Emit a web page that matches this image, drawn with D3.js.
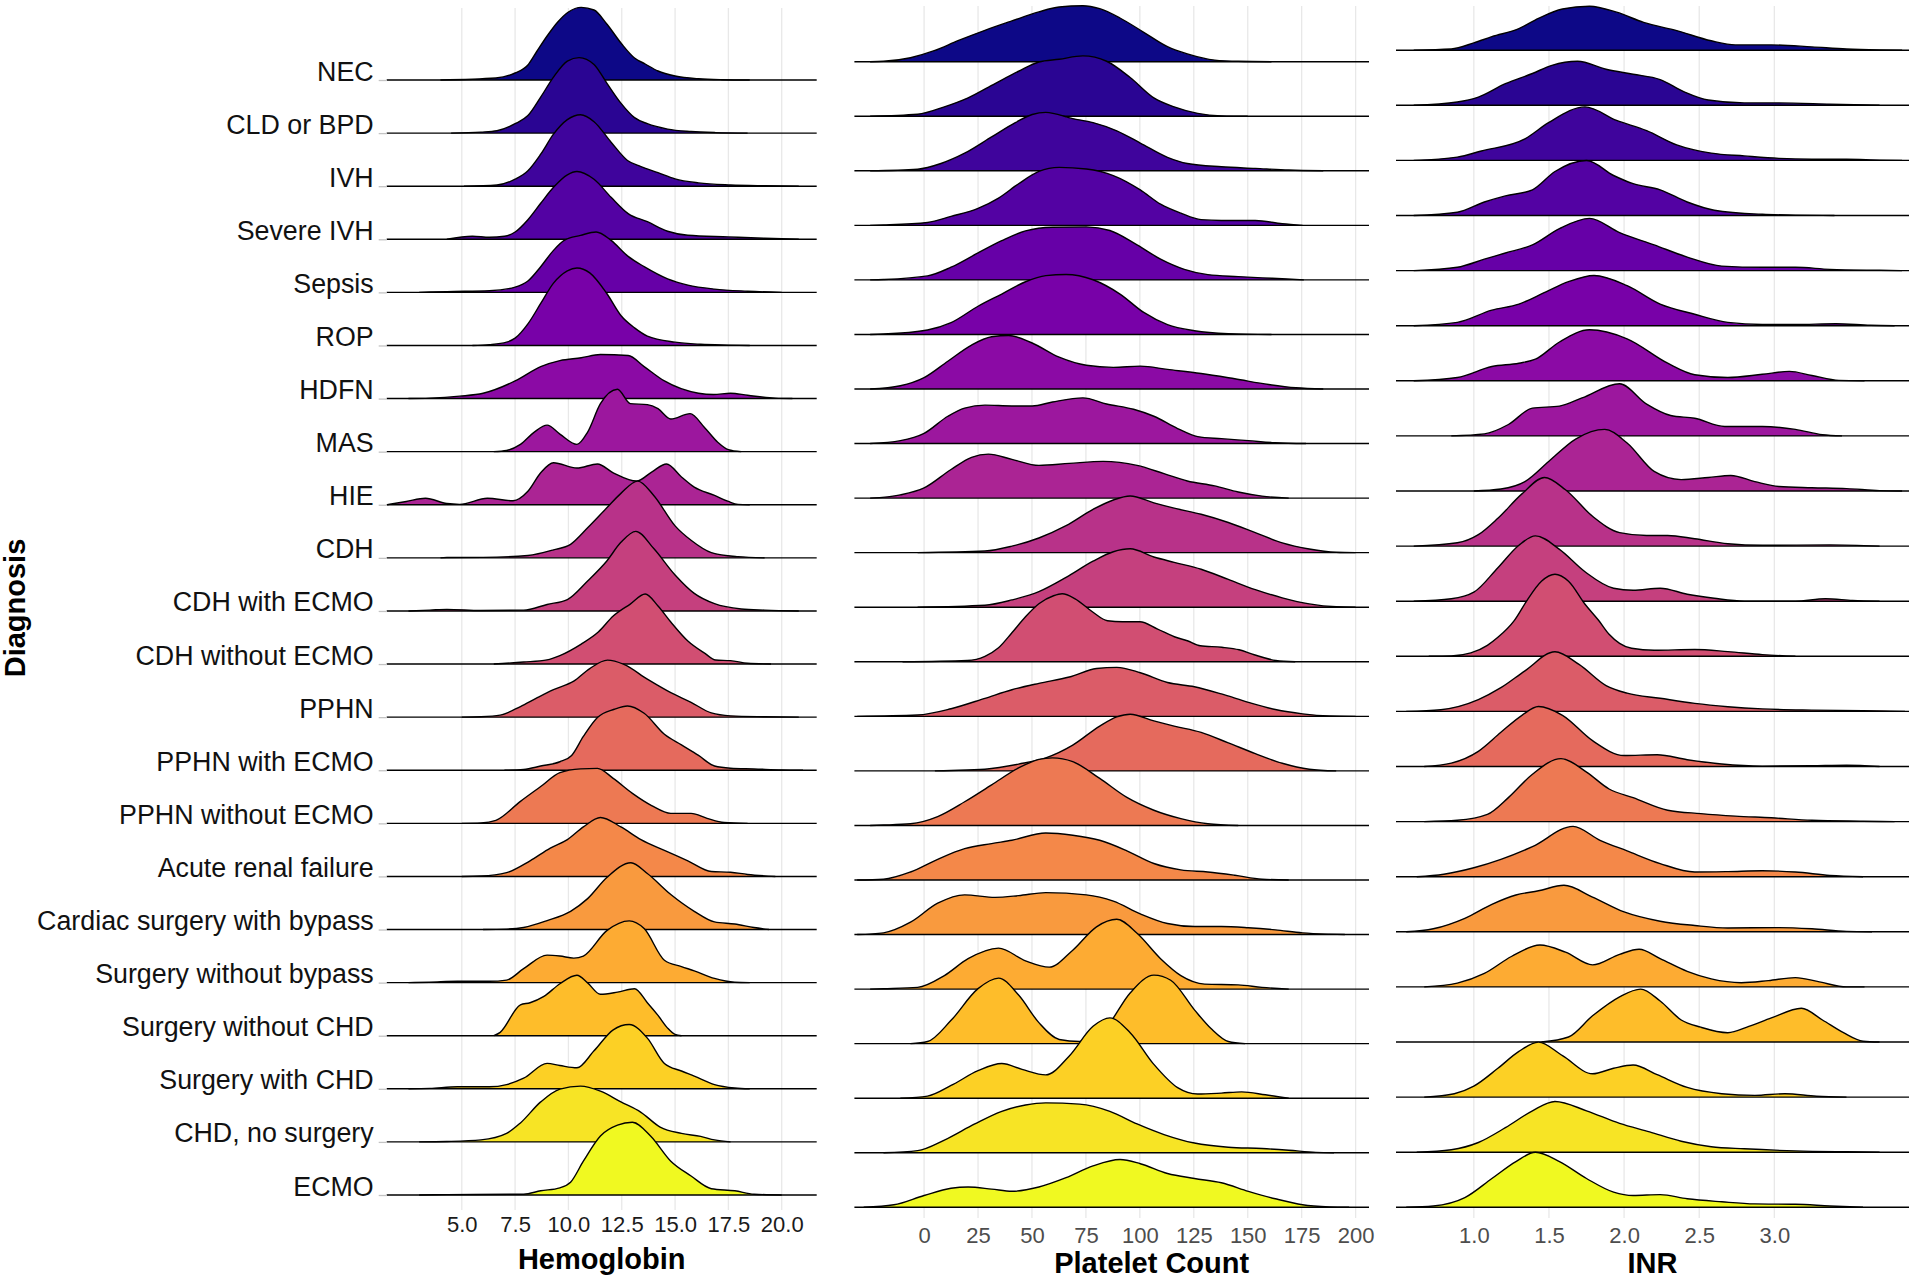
<!DOCTYPE html>
<html>
<head>
<meta charset="utf-8">
<script src="https://cdn.jsdelivr.net/npm/d3@7"></script>
<style>
  html, body { margin: 0; padding: 0; background: #ffffff; }
  svg { display: block; font-family: "Liberation Sans", Arial, sans-serif; }
</style>
</head>
<body>
<svg id="chart" width="1920" height="1283"></svg>
<script>
// ---------------- DATA ----------------
const diagnoses = ["NEC","CLD or BPD","IVH","Severe IVH","Sepsis","ROP","HDFN","MAS","HIE","CDH",
  "CDH with ECMO","CDH without ECMO","PPHN","PPHN with ECMO","PPHN without ECMO","Acute renal failure",
  "Cardiac surgery with bypass","Surgery without bypass","Surgery without CHD","Surgery with CHD",
  "CHD, no surgery","ECMO"];

const hbTicks  = [5, 7.5, 10, 12.5, 15, 17.5, 20];
const pltTicks = [0, 25, 50, 75, 100, 125, 150, 175, 200];
const inrTicks = [1, 1.5, 2, 2.5, 3];

// density estimates (relative, x100): [value, density]
const hbDensity = [
  [[4,0],[6.6,2],[7.5,7],[8.1,15],[8.5,28],[9,44],[9.5,58],[10,68],[10.6,72.6],[11.2,70],[11.8,56],[12.5,36],[13.1,22],[13.6,16],[14.2,9],[15,4],[16.1,1.2],[17.2,0.3],[18.5,0]],
  [[4.5,0],[5.9,1],[6.65,2.4],[7.5,9.4],[8.1,17.5],[8.7,36],[9.3,56],[9.95,72],[10.5,75.5],[11.2,68.6],[11.8,50],[12.46,30],[13.1,15.5],[13.7,9.4],[14.65,4],[15.75,1.6],[16.9,0.5],[18.4,0]],
  [[5.1,0],[6.65,1.2],[7.5,7],[8.1,15.5],[8.7,32],[9.3,52],[9.95,66.5],[10.57,71.4],[11.2,64.5],[12,44],[12.77,25.7],[13.4,19.6],[14.2,13.5],[15,7.3],[16.1,3.3],[17.6,1.2],[19.2,0.4],[20.8,0]],
  [[4.3,0],[5.5,3],[6.3,2],[7.0,3],[7.5,7.3],[8.1,19.6],[8.7,36],[9.3,52],[9.95,64.5],[10.4,67.8],[11.2,60],[12,42],[12.8,25.7],[13.7,17.6],[14.65,8],[15.6,4],[17.5,2.4],[19.2,1],[20.8,0]],
  [[3,0],[4.3,0.8],[6.3,1.6],[7.5,5.3],[8.1,11.4],[8.7,25.7],[9.3,42],[9.8,52],[10.57,57],[11.3,60.4],[12,52],[12.8,36],[13.55,25.7],[14.65,13.5],[15.6,7.3],[16.85,3.3],[18.4,1.2],[20,0]],
  [[5.5,0],[6.3,0.8],[7.1,3.3],[7.5,7.3],[8.1,21.6],[8.7,42],[9.3,62.4],[9.95,74.7],[10.4,77.5],[11,72.6],[11.8,52],[12.46,30],[13.1,17.6],[13.7,9.4],[15,3.3],[16.2,1.2],[17.5,0.4],[18.5,0]],
  [[2.5,0],[3.5,0.4],[4.9,2.4],[6,5.3],[7.5,17.6],[8.7,32],[9.6,38],[10.6,40.8],[11.5,44],[12.8,43],[13.55,32],[14.5,17.6],[16.1,5.3],[16.8,4],[17.6,5.3],[18.4,3.3],[19.7,0.4],[20.5,0]],
  [[6.5,0],[7.1,1.2],[7.75,7.3],[8.4,19.6],[9,26.5],[9.6,17.6],[10.4,7.3],[10.9,19.6],[11.5,48],[12.3,62.4],[12.9,48],[13.7,47],[14.2,43],[14.8,32.7],[15.7,38],[16.4,23.7],[17,9.4],[17.5,2],[18.1,0]],
  [[1.5,0],[2.4,3.3],[3.3,6.5],[4.3,1.2],[4.9,0.4],[6.2,6.5],[7.4,4],[8.1,13.5],[8.7,32],[9.3,42],[10.4,36.7],[11.36,40.8],[12.1,32],[13.2,23.7],[13.9,32.7],[14.6,40.8],[15.3,27.8],[15.9,17.6],[16.85,9.4],[17.5,3.3],[17.95,0.4],[18.5,0]],
  [[4,0],[4.3,0.4],[6,0.5],[8.1,2.4],[9.3,8],[10.1,13.5],[10.9,30],[11.8,50],[12.46,64.5],[13.25,76.7],[14,62.4],[15,32],[15.75,17.6],[16.7,5.3],[17.95,1.2],[19.2,0]],
  [[2.5,0],[3.5,0.8],[4.3,1.6],[5.9,0.4],[7.9,0.8],[9,6.5],[9.95,11.4],[10.9,30],[11.8,50],[12.46,68.6],[13.16,79.6],[14,62.4],[15,36],[15.9,17.6],[16.85,7.3],[18.1,2],[19.2,0.8],[20.8,0]],
  [[6.5,0],[7.9,2],[9,4.2],[9.6,8.5],[10.6,20],[11.4,32],[12.1,48],[12.9,60],[13.6,70],[14.2,58],[14.8,42],[15.6,23],[16.4,10.6],[16.9,4],[17.6,3.4],[18.4,0.8],[19.5,0]],
  [[5,0],[5.9,0.4],[6.8,2],[7.75,10.6],[8.5,19],[9.3,27.5],[10.25,36],[11,48.6],[11.83,57],[12.6,52.8],[13.7,38],[14.8,24.5],[15.75,14.8],[16.7,4.2],[17.6,1.3],[19.2,0.4],[20.8,0]],
  [[7,0],[7.9,0.8],[8.7,4.2],[9.6,8.5],[10.15,14.8],[10.7,33.8],[11.36,52.8],[12.15,61],[12.77,64.3],[13.55,57],[14.5,36],[15.3,25.4],[16.1,14.8],[16.85,4.2],[17.6,2],[18.7,1.3],[20,0.3],[21,0]],
  [[5,0],[5.9,0.4],[6.6,3],[7.75,22],[8.7,36.8],[9.6,50.7],[10.57,54.5],[11.36,55],[12.1,45],[13,30],[13.9,17.8],[14.8,10],[15.75,10],[16.5,5],[17.3,0.8],[18.4,0]],
  [[5,0],[5.9,0.4],[7.1,3.8],[8.2,15.6],[9.15,28.3],[9.95,36.8],[10.7,49.5],[11.5,59],[12.46,49.5],[13.4,36.8],[14.5,26],[15.6,15.6],[16.7,5],[17.6,4.2],[18.4,2],[19.7,0]],
  [[6,0],[7.1,0.4],[7.9,2],[9,8.9],[10.1,18.2],[10.9,30.9],[11.8,52],[12.93,66.8],[13.7,56],[14.8,35],[15.9,18.2],[16.85,7.6],[17.8,5.5],[18.7,2],[19.4,0]],
  [[2.5,0],[3.5,0.4],[4.8,1.3],[6.3,1.3],[7.1,2.5],[7.9,14],[9,27.5],[9.6,26.6],[10.25,24.5],[10.7,26.6],[11.8,52],[12.85,61.7],[13.55,54],[14.5,22.4],[15.3,16],[15.9,11.8],[16.85,4.2],[17.8,0.4],[18.5,0]],
  [[6.5,0],[6.8,3.4],[7.75,30.9],[8.2,33],[8.85,39.3],[9.6,52],[10.4,60.5],[10.9,52.8],[11.5,41.4],[12.3,43.6],[13.1,47],[13.7,33],[14.2,20.3],[14.65,7.6],[15,1.3],[15.3,0]],
  [[2.5,0],[3.5,0.4],[4.8,2],[6.3,2],[7.1,4.2],[7.9,10.6],[9,25.4],[9.6,23.3],[10.4,21],[11.2,38],[12.1,59],[12.85,64.3],[13.7,50.7],[14.5,25.4],[15.3,17.8],[15.9,12.7],[16.85,4.2],[17.8,0.8],[18.5,0]],
  [[3,0],[4.3,0.4],[5.9,2],[7.1,8.5],[7.75,19],[8.7,40],[9.6,52.8],[10.57,55.8],[11.5,50.7],[12.46,40],[13.4,29.6],[14.3,14.8],[15.3,8.5],[16.2,5.5],[16.85,2],[17.6,0]],
  [[3,0],[4.3,0.4],[7.9,0.8],[8.7,4.2],[9.6,7.2],[10.1,12.7],[10.7,33.8],[11.5,59],[12.3,69.8],[13,72.7],[13.85,59],[14.8,33.8],[15.75,19],[16.7,6.3],[17.8,4.2],[18.7,0.8],[20,0]]
];

const pltDensity = [
  [[-25,0],[-18.8,0.4],[-6.3,4],[4.7,11],[15.7,21],[28.2,31.4],[40.7,40.8],[53.2,49.8],[62.6,54.7],[73.6,56],[81.4,53],[90.8,43.7],[101.8,29.4],[112.8,15],[122,7.8],[134.7,1.6],[145.6,0.4],[161,0]],
  [[-25,0],[-3,2],[9.4,9.4],[20.4,18.4],[32.9,32.7],[43.8,45],[53.2,54.3],[62.6,57],[73.6,60.4],[84.6,55],[95.5,38.8],[106.5,18.4],[115.9,9.4],[126.8,2.9],[137.8,0.4],[150,0]],
  [[-25,0],[-3,1.6],[7.8,7.3],[18.8,17.6],[31.3,33.9],[42.3,48.2],[50.1,56.3],[56.4,58.4],[68.9,52.2],[78.3,48.2],[89.3,40],[100.2,27.8],[112.8,13.5],[122,7.3],[137.8,4],[153.5,2.4],[169,0.8],[185,0]],
  [[-25,0],[-18.8,0.4],[1.6,2.9],[12.5,9],[25,17],[34.5,27.3],[43.8,41.6],[53.2,53.9],[62.6,58],[75.2,56.3],[87.7,49.8],[100.2,35.5],[109.6,21.2],[119,12.2],[128.4,5.7],[137.8,4.9],[153.5,4.9],[166,1.6],[175.4,0]],
  [[-25,0],[-18.8,0.4],[1.6,4],[12.5,12.7],[25,27],[36,39.2],[47,49],[59.5,52.7],[75.2,53],[86.1,49.4],[98.7,35],[109.6,20.8],[120.6,10.6],[131.5,5.3],[145.6,3.3],[161.3,1.6],[176,0]],
  [[-25,0],[-18.8,0.4],[1.6,4.5],[12.5,11.8],[25,28.2],[36,40.4],[47,52.7],[56.4,58.8],[65.8,60],[78.3,54.7],[90.8,40.4],[101.8,22],[112.8,9.8],[125.3,3.7],[141,0.8],[161,0]],
  [[-25,0],[-11,3.3],[0,11.4],[11,27.8],[22,44],[31.3,52.2],[39.2,53.5],[50.1,46],[62.6,31.8],[75.2,23.7],[87.7,21.6],[100.2,22.9],[112.8,19.6],[128.4,15.5],[144,10.2],[159.7,4.5],[172.3,1.2],[185,0]],
  [[-25,0],[-11,2.9],[0,10.2],[11,27.3],[18.8,35.5],[28.2,38.4],[40.7,37.6],[50.1,37.6],[59.5,41.6],[73.6,45.7],[84.6,39.6],[97.1,34.3],[106.5,27.3],[117.5,15],[126.8,7],[137.8,4.9],[150.3,2.9],[162.8,0.8],[177,0]],
  [[-25,0],[-11,3.3],[0,10.2],[12.5,28.6],[22,40.8],[29.8,44],[40.7,38.8],[53.2,32.7],[67.3,34.7],[83,36.7],[98.7,32.7],[111.2,24.5],[122,17.1],[134.7,12.2],[145.6,6.1],[156.6,2],[169,0]],
  [[-3,0],[28.2,1.6],[40.7,6.5],[53.2,14.7],[65.8,27],[78.3,43.3],[87.7,52.7],[95.5,56.7],[106.5,49.8],[115.9,44.5],[128.4,38.4],[141,30.2],[153.5,20],[166,9.8],[178.5,3.7],[191,0.4],[200,0]],
  [[-3,0],[28.2,2],[40.7,7.3],[53.2,15.5],[65.8,29.8],[78.3,46],[87.7,55.5],[95.5,58.4],[106.5,50.2],[115.9,44.9],[128.4,38],[141,27.8],[153.5,17.6],[166,9.4],[178.5,3.3],[191,0.4],[200,0]],
  [[-10,0],[20,1.3],[28.2,5.5],[34.5,14],[40.7,29],[47,45],[53.2,58],[60,66],[64,68],[70,63],[78,50],[85,41],[92,40],[100,40],[108,33],[116,25],[122,21],[128,16],[138,14.5],[146,12],[153,7],[163,1.3],[172,0]],
  [[-31,0],[-3,1.3],[12.5,7.6],[28.2,18],[40.7,26.6],[53.2,33],[67.3,39.3],[79.9,47.8],[89.3,49],[100.2,43.6],[112.8,33.8],[125.3,29.6],[137.8,22.4],[150.3,14],[162.8,6.8],[175.4,2.5],[187.9,0.4],[200,0]],
  [[5,0],[12.5,0.4],[28.2,1.7],[43.8,6.8],[56.4,13],[68.9,25.8],[81.4,44.8],[89.3,54],[95.5,56.7],[106.5,50],[115.9,44.8],[128.4,38.5],[141,28],[153.5,17.3],[166,7.6],[178.5,1.7],[191,0]],
  [[-25,0],[-18.8,0.4],[-6.3,1.7],[6.3,8.9],[18.8,23.7],[31.3,40.6],[43.8,57.5],[53.2,66],[59.5,67.6],[68.9,63.8],[81.4,47],[94,28],[106.5,15.2],[119,6.8],[131.5,1.7],[145.6,0]],
  [[-31,0],[-18.8,0.8],[-6.3,8],[6.3,20.7],[18.8,31.3],[31.3,36.4],[40.7,39.7],[56.4,47],[68.9,44.8],[81.4,39.7],[94,29.2],[106.5,16.5],[119,10.1],[131.5,8],[144,4.7],[156.6,0.8],[169,0]],
  [[-31,0],[-18.8,1.7],[-6.3,12.3],[6.3,31.3],[18.8,39.7],[32.9,37.2],[43.8,38.9],[56.4,41.9],[75.2,39.7],[87.7,33.4],[100.2,20.7],[112.8,11],[125.3,8],[137.8,8],[150.3,6.8],[162.8,4.7],[175.4,1.7],[187.9,0.4],[195,0]],
  [[-25,0],[-18.8,0.4],[-3,1.7],[9.4,13.5],[20.4,30.4],[34.5,41],[47,28.3],[58,22],[68.9,38.9],[79.9,62.3],[89.3,69.8],[98.7,55.8],[109.6,30.4],[119,13.5],[130,5],[145.6,4.2],[156.6,1.7],[169,0]],
  [[-6.3,0],[1.6,2.1],[12.5,23.3],[25,55],[34.5,65.5],[43.8,48.6],[53.2,21],[62.6,4.2],[72,2.1],[84.6,16.9],[95.5,50.7],[106.5,68.5],[114.3,63.4],[125.3,33.8],[133.1,14.8],[141,2.1],[148.8,0]],
  [[-11,0],[1.6,2.1],[12.5,12.7],[25,27.5],[36,34.7],[45.4,28.8],[56.4,23.3],[67.3,42.3],[78.3,71.9],[86.1,80.3],[95.5,65.5],[106.5,33.8],[117.5,10.6],[126.8,4.2],[137.8,5.1],[147.2,6.3],[158.2,3.4],[169,0]],
  [[-18.8,0],[-3,2.1],[9.4,12.7],[23.5,28.8],[36,41.4],[47,47.8],[56.4,49.9],[72,48.6],[86.1,41.4],[98.7,28.8],[111.2,18.2],[125.3,9.7],[141,5.5],[156.6,4.2],[169,2.5],[181.6,0.4],[190,0]],
  [[-28,0],[-14,2.5],[0,11.8],[12.5,19],[20.4,20.3],[31.3,18.2],[40.7,16],[53.2,20.3],[65.8,29.6],[78.3,41.4],[90.8,47.8],[100.2,43.6],[112.8,33.8],[125.3,28.8],[137.8,24.5],[150.3,16],[162.8,8.5],[175.4,2.5],[187.9,0.4],[197,0]]
];

const inrDensity = [
  [[0.6,0],[0.85,1.2],[1.0,7.3],[1.12,13.5],[1.3,21.6],[1.43,31.8],[1.59,41.2],[1.77,44],[1.95,38],[2.13,27.8],[2.35,19.6],[2.58,9.4],[2.74,5.3],[2.98,5.3],[3.25,3.3],[3.48,1.2],[3.7,0.3],[3.85,0]],
  [[0.6,0],[0.89,3.3],[1.03,8.2],[1.21,21.6],[1.39,31.8],[1.52,40],[1.69,44],[1.88,36],[2.06,31],[2.24,25.7],[2.4,13.5],[2.56,5.3],[2.8,2.4],[3.03,2.4],[3.37,1.2],[3.7,0]],
  [[0.6,0],[0.89,3.3],[1.05,9.4],[1.34,21.6],[1.5,38],[1.74,53.5],[1.95,40],[2.15,29.8],[2.35,15.5],[2.58,7.3],[2.8,4.5],[3.03,2],[3.25,1.2],[3.48,1.2],[3.7,0.3],[3.85,0]],
  [[0.6,0],[0.89,3.3],[1.07,13.5],[1.21,19.6],[1.39,25.7],[1.54,44],[1.75,55],[1.93,40],[2.06,31.8],[2.24,25.7],[2.42,13.5],[2.6,5.3],[2.92,1.2],[3.14,0.4],[3.4,0]],
  [[0.6,0],[0.89,3.3],[1.07,11.4],[1.21,17.6],[1.39,25.7],[1.57,42],[1.77,52.2],[1.97,38],[2.2,25.7],[2.42,13.5],[2.65,4.5],[2.92,3.3],[3.14,3.3],[3.37,1.2],[3.7,0.3],[3.85,0]],
  [[0.6,0],[0.89,3.3],[1.12,15.5],[1.3,21.6],[1.48,33.9],[1.63,44],[1.8,50.2],[2.02,40],[2.24,21.6],[2.47,11.4],[2.69,3.3],[2.92,1.2],[3.14,1.2],[3.41,2],[3.64,0.4],[3.8,0]],
  [[0.6,0],[0.89,3.3],[1.12,14.3],[1.3,17.6],[1.41,21.6],[1.57,38.8],[1.77,51],[2.02,42],[2.29,17.6],[2.47,6.1],[2.69,3.3],[2.92,6.5],[3.1,9.4],[3.25,5.3],[3.43,0.4],[3.6,0]],
  [[0.85,0],[1.07,2],[1.23,11.4],[1.39,27.8],[1.57,29.8],[1.72,38],[1.97,52.2],[2.15,31.8],[2.31,20.4],[2.47,17.6],[2.67,9.4],[2.92,9.4],[3.14,6.5],[3.32,1.2],[3.45,0]],
  [[1.0,0],[1.18,2],[1.34,9.4],[1.5,29.8],[1.68,52.2],[1.87,61.6],[2.02,48],[2.2,19.6],[2.38,11.4],[2.56,13.5],[2.71,15.5],[2.87,9.4],[3.03,4.5],[3.25,3.3],[3.48,2.4],[3.7,0.4],[3.85,0]],
  [[0.6,0],[0.89,3.3],[1.03,11.4],[1.16,27.8],[1.32,52.2],[1.47,68.6],[1.61,56.3],[1.79,29.8],[1.97,13.5],[2.15,10.6],[2.29,10.6],[2.47,7.3],[2.69,2.4],[2.92,0.8],[3.37,1.2],[3.7,0]],
  [[0.6,0],[0.85,2.4],[1.0,9],[1.16,33.5],[1.3,56],[1.41,65.3],[1.57,51.8],[1.74,29.4],[1.93,13],[2.06,11],[2.24,13],[2.42,7],[2.6,2.9],[2.8,0],[3.14,0],[3.34,2.4],[3.52,0.8],[3.7,0]],
  [[0.7,0],[0.85,0.4],[0.98,3.4],[1.09,11],[1.16,19],[1.27,36],[1.35,55],[1.45,75],[1.54,82],[1.63,75],[1.74,52],[1.83,36],[1.9,22],[1.97,13],[2.05,8],[2.2,6],[2.47,6.8],[2.69,4.7],[2.92,1.7],[3.14,0]],
  [[0.55,0],[0.78,1.7],[1.03,11.8],[1.18,23.7],[1.34,40.6],[1.54,59.6],[1.7,47],[1.88,25.8],[2.02,18.2],[2.24,13.1],[2.47,8],[2.69,4.7],[2.92,2.5],[3.25,1.3],[3.59,0.8],[3.87,0]],
  [[0.67,0],[0.85,3.4],[1.03,15.2],[1.18,34.2],[1.32,51.2],[1.43,60],[1.59,51.2],[1.79,25.8],[2.0,11],[2.22,11.8],[2.42,6.8],[2.65,2.5],[2.92,0.4],[3.25,0.8],[3.48,1.3],[3.7,0]],
  [[0.67,0],[0.89,1.3],[1.09,7.2],[1.23,24],[1.39,47.4],[1.58,63],[1.75,49.5],[1.9,32.6],[2.06,24],[2.29,11.4],[2.51,8],[2.74,5.5],[2.98,3.8],[3.25,1.3],[3.59,0.4],[3.8,0]],
  [[0.62,0],[0.8,2.5],[1.0,8.9],[1.18,17.3],[1.39,30],[1.66,50.3],[1.84,36.4],[2.02,25.8],[2.24,13.1],[2.47,4.7],[2.69,5.1],[2.92,5.9],[3.14,4.7],[3.37,1.3],[3.59,0]],
  [[0.55,0],[0.73,3],[0.94,13.5],[1.12,27.5],[1.28,36.8],[1.43,41],[1.6,46.5],[1.79,34.7],[2.0,19.9],[2.24,10.6],[2.47,6.3],[2.69,3.8],[3.03,4.2],[3.25,3],[3.48,0.4],[3.65,0]],
  [[0.67,0],[0.89,3.8],[1.07,13.5],[1.25,30.4],[1.44,41.9],[1.61,34.7],[1.79,22],[1.97,32.6],[2.1,37.6],[2.24,28.3],[2.42,15.6],[2.58,8],[2.78,4.2],[2.96,6.3],[3.14,9.3],[3.3,5],[3.48,0],[3.6,0]],
  [[1.45,0],[1.63,5],[1.79,26.2],[1.97,45.2],[2.11,52.9],[2.24,41],[2.38,22],[2.51,14.8],[2.69,9.3],[2.83,15.6],[2.98,24.1],[3.18,33.8],[3.32,22],[3.46,9.3],[3.59,0.8],[3.7,0]],
  [[0.67,0],[0.87,3.4],[1.0,11],[1.16,28.8],[1.3,45.7],[1.43,55],[1.59,41.4],[1.79,23.3],[1.93,28.8],[2.06,32.1],[2.22,22.4],[2.42,9.7],[2.65,3.4],[2.87,1.7],[3.07,3.4],[3.28,0.8],[3.48,0]],
  [[0.62,0],[0.85,2.5],[1.03,9.7],[1.21,24.5],[1.39,41.4],[1.54,50.7],[1.75,41.4],[1.97,28.8],[2.17,20.3],[2.38,11],[2.58,5.5],[2.8,3.4],[3.14,1.3],[3.48,0.4],[3.7,0]],
  [[0.55,0],[0.73,1.3],[0.94,9.7],[1.12,28.8],[1.28,45.7],[1.41,55],[1.57,45.7],[1.75,28.8],[1.93,15.2],[2.06,11.8],[2.24,12.7],[2.42,8.5],[2.65,5.5],[2.87,3.4],[3.14,3],[3.37,1.3],[3.59,0]]
];

// ---------------- LAYOUT ----------------
const svg = d3.select("#chart");
svg.append("rect").attr("width", 1920).attr("height", 1283).attr("fill", "#ffffff");

const color = i => d3.interpolatePlasma(i / (diagnoses.length - 1));

const panels = [
  { title: "Hemoglobin", data: hbDensity, ticks: hbTicks, fmt: d3.format(".1f"),
    domain: [1.48, 21.64], range: [386.7, 816.7], rows: [80, 1195],
    gridTop: 8, gridBottom: 1210, tickY: 1232, tickColor: "#1a1a1a",
    titleX: 601.7, titleY: 1269, yLabels: true },
  { title: "Platelet Count", data: pltDensity, ticks: pltTicks, fmt: d3.format("d"),
    domain: [-32.3, 206.2], range: [854.4, 1369], rows: [61.7, 1207.3],
    gridTop: 6, gridBottom: 1218, tickY: 1243, tickColor: "#4d4d4d",
    titleX: 1151.7, titleY: 1272.5, yLabels: false },
  { title: "INR", data: inrDensity, ticks: inrTicks, fmt: d3.format(".1f"),
    domain: [0.482, 3.896], range: [1396, 1909], rows: [50.2, 1207.3],
    gridTop: 6, gridBottom: 1218, tickY: 1243, tickColor: "#4d4d4d",
    titleX: 1652.5, titleY: 1273, yLabels: false }
];

const hScale = d3.scaleLinear().domain([0, 100]).range([0, 100]);

panels.forEach(p => {
  const x = d3.scaleLinear().domain(p.domain).range(p.range);
  const y = d3.scalePoint().domain(diagnoses).range(p.rows);
  const g = svg.append("g");

  // vertical grid
  g.append("g").selectAll("line").data(p.ticks).join("line")
    .attr("x1", d => x(d)).attr("x2", d => x(d))
    .attr("y1", p.gridTop).attr("y2", p.gridBottom)
    .attr("stroke", "#e8e8e8").attr("stroke-width", 1.3);

  // ridges (top row first, lower rows drawn over)
  diagnoses.forEach((name, i) => {
    const yb = y(name);
    const pts = p.data[i];
    const area = d3.area()
      .x(d => x(d[0])).y0(yb).y1(d => yb - hScale(d[1]))
      .curve(d3.curveMonotoneX);
    const line = d3.line()
      .x(d => x(d[0])).y(d => yb - hScale(d[1]))
      .curve(d3.curveMonotoneX);
    const rg = g.append("g");
    rg.append("path").attr("d", area(pts)).attr("fill", color(i)).attr("stroke", "none");
    rg.append("line")
      .attr("x1", p.range[0]).attr("x2", p.range[1])
      .attr("y1", yb).attr("y2", yb)
      .attr("stroke", "#000").attr("stroke-width", 1.4);
    rg.append("path").attr("d", line(pts)).attr("fill", "none")
      .attr("stroke", "#000").attr("stroke-width", 1.4).attr("stroke-linejoin", "round");
  });

  // x axis labels
  const fs = 22;
  const ax = g.append("g")
    .attr("transform", `translate(0,${p.tickY - 0.71 * fs})`)
    .call(d3.axisBottom(x).tickValues(p.ticks).tickFormat(p.fmt).tickSize(0).tickPadding(0));
  ax.select(".domain").remove();
  ax.selectAll("text")
    .attr("font-size", fs).attr("fill", p.tickColor)
    .attr("font-family", "'Liberation Sans', Arial, sans-serif");

  // x title
  g.append("text").attr("x", p.titleX).attr("y", p.titleY)
    .attr("text-anchor", "middle").attr("font-size", 29).attr("font-weight", "bold")
    .attr("fill", "#000").text(p.title);

  // y axis labels
  if (p.yLabels) {
    const ay = g.append("g")
      .attr("transform", `translate(${p.range[0]},0)`)
      .call(d3.axisLeft(y).tickSize(8).tickPadding(5));
    ay.select(".domain").remove();
    ay.selectAll(".tick line").attr("stroke", "#c4c4c4").attr("stroke-width", 1.3);
    ay.selectAll("text")
      .attr("dy", "0").attr("font-size", 26.8).attr("fill", "#111")
      .attr("font-family", "'Liberation Sans', Arial, sans-serif");
  }
});

// y title
svg.append("text")
  .attr("transform", "translate(25,608) rotate(-90)")
  .attr("text-anchor", "middle").attr("font-size", 29).attr("font-weight", "bold")
  .attr("fill", "#000").text("Diagnosis");
</script>
</body>
</html>
